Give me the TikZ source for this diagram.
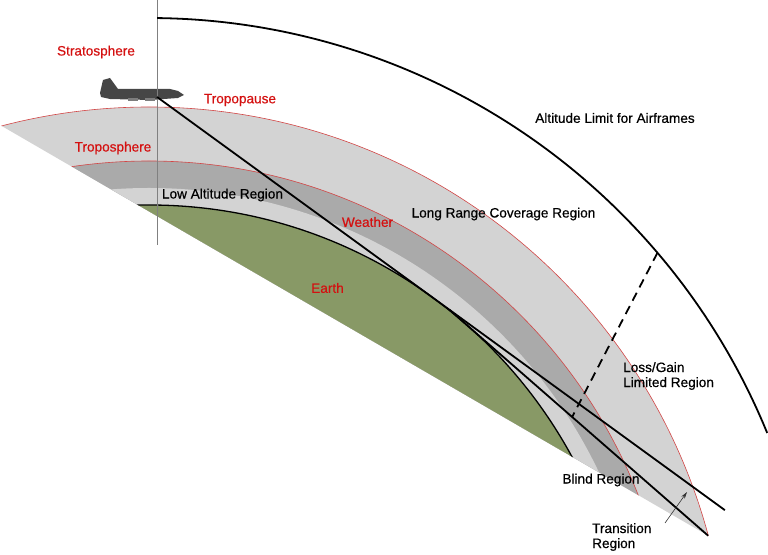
\documentclass[tikz,border=0pt]{standalone}
\usepackage{fontspec}
\setmainfont{Liberation Sans}
\newfontfamily\labelfont{Liberation Sans}[FakeBold=0.5]
\usetikzlibrary{calc}
\usetikzlibrary{arrows.meta}
\definecolor{skyred}{RGB}{212,16,16}
\definecolor{bandred}{RGB}{210,70,70}
\definecolor{lightband}{RGB}{211,211,211}
\definecolor{darkband}{RGB}{170,170,170}
\definecolor{earthgreen}{RGB}{136,153,102}
\definecolor{planegray}{RGB}{70,70,70}
\tikzset{
    redlabel/.style = {text=skyred, inner sep=0pt},
    blacklabel/.style = {text=black, inner sep=0pt},
    twoline/.style = {blacklabel, align=left, anchor=west},
    band/.style = {draw=bandred, line width=0.6pt},
    earthline/.style = {draw=black, line width=1.3pt},
    sightline/.style = {line width=1.8pt, black},
    limitarc/.style = {line width=1.8pt, black},
    lossline/.style = {line width=1.8pt, black, dash pattern=on 9pt off 6pt}, % dashed
    plumb/.style = {line width=0.7pt, gray},
    pointer/.style = {-{Stealth[length=7pt,width=4pt]}, line width=0.6pt, black!80}
}

\begin{document}
\begin{tikzpicture}[x=1pt, y=1pt, font=\labelfont\fontsize{13.6}{15}\selectfont]
  \useasboundingbox (0,0) rectangle (768,554);

  % geometry
  \coordinate (centre) at (149,-132);
  \coordinate (rim) at (0,429);
  \coordinate (corner) at ($(centre)+(15.05:579)$);
  \coordinate (plane) at (157,457);
  \coordinate (tangent) at ($(centre)+(53.96:481)$);
  \coordinate (tangentb) at ($(centre)+(48.88:481)$);
  \coordinate (sightend) at ($(plane)!2.065!(tangent)$);
  \coordinate (junction) at (intersection of plane--tangent and corner--tangentb);
  \coordinate (losstop) at ($(centre)+(40.43:668)$);
  \coordinate (lossfoot) at ($(corner)!0.56!(tangentb)$);
  \coordinate (transtail) at (665,31);
  \coordinate (transhead) at (687,62);

  % bands
  \begin{scope}
    \clip ($(rim)!-0.1!(corner)$) -- ($(rim)!1.2!(corner)$) -- (850,600) -- (-100,600) -- cycle;
    \filldraw[band, fill=lightband] (centre) circle[radius=579];
    \filldraw[band, fill=darkband] (centre) circle[radius=525];
    \fill[lightband] (centre) circle[radius=498];
    \filldraw[earthline, fill=earthgreen] (centre) circle[radius=481];
  \end{scope}

  % aircraft
  \fill[planegray] (100,461) -- (103,474) -- (110,476) -- (118,465) -- (170,465)
    -- (178,463) -- (184,459) -- (178,456) -- (150,454) -- (110,455) -- (101,457) -- cycle;
  \fill[planegray!70] (128,453) rectangle (138,456);
  \fill[planegray!70] (145,453) rectangle (155,456);
  \draw[plumb] (157,554) -- (157,309);

  % lines of sight
  \draw[limitarc] ($(centre)+(89.31:668)$) arc[start angle=89.31, end angle=22.26, radius=668];
  \draw[sightline] (plane) -- (sightend);
  \draw[sightline] (junction) -- (corner);
  \draw[lossline] (losstop) -- (lossfoot);
  \draw[pointer] (transtail) -- (transhead);

  % labels
  \node[redlabel] (strato) at (96,502) {Stratosphere};
  \node[redlabel] (tpause) at (240,454) {Tropopause};
  \node[redlabel] (tsphere) at (113,406) {Troposphere};
  \node[redlabel] (weather) at (367.5,332) {Weather};
  \node[redlabel] (earth) at (327.5,266) {Earth};
  \node[blacklabel] (lowalt) at (222.5,359) {Low Altitude Region};
  \node[blacklabel] (longrange) at (503.5,340) {Long Range Coverage Region};
  \node[blacklabel] (altlimit) at (615,436) {Altitude Limit for Airframes};
  \node[blacklabel] (blind) at (601,74) {Blind Region};
  \node[twoline] (lossgain) at (623,178) {Loss/Gain\\Limited Region};
  \node[twoline] (transition) at (592,17) {Transition\\Region};
\end{tikzpicture}
\end{document}
